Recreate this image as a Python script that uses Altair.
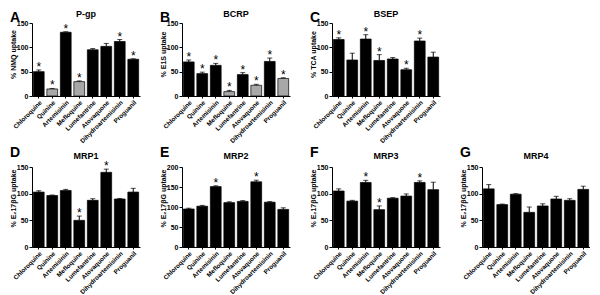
import altair as alt
import pandas as pd

drugs = ["Chloroquine", "Quinine", "Artemisinin", "Mefloquine", "Lumefantrine",
         "Atovaquone", "Dihydroartemisinin", "Proguanil"]

letters = ["A", "B", "C", "D", "E", "F", "G"]
titles = ["P-gp", "BCRP", "BSEP", "MRP1", "MRP2", "MRP3", "MRP4"]
ytitles = ["% NMQ uptake", "% E1S uptake", "% TCA uptake",
           "% E₂17βG uptake", "% E₂17βG uptake", "% E₂17βG uptake", "% E₂17βG uptake"]
ymax = [150, 150, 150, 150, 200, 150, 150]

pgp_val = [50, 14.5, 131, 29.5, 95, 102, 112, 75.5]
pgp_err = [3.5, 1, 1, 1.5, 2.5, 6, 4, 1]
pgp_star = [1, 1, 1, 1, 0, 0, 1, 1]
pgp_grey = [0, 1, 0, 1, 0, 0, 0, 0]

bcrp_val = [70, 46, 63, 9, 44, 22, 71, 36]
bcrp_err = [4, 3, 4, 2.5, 4, 2, 7, 1.5]
bcrp_star = [1, 1, 1, 1, 1, 1, 1, 1]
bcrp_grey = [0, 0, 0, 1, 0, 1, 0, 1]

bsep_val = [116, 74, 117, 73, 76, 54, 113, 80]
bsep_err = [3.5, 14, 9, 12, 3, 3, 6, 10]
bsep_star = [1, 0, 1, 1, 0, 1, 1, 0]
bsep_grey = [0, 0, 0, 0, 0, 0, 0, 0]

mrp1_val = [103, 96.5, 106, 50, 87.5, 140, 90, 103]
mrp1_err = [2.5, 1, 2, 8, 3, 6, 1, 7]
mrp1_star = [0, 0, 0, 1, 0, 1, 0, 0]

mrp2_val = [95, 102, 151, 111, 114, 163, 112, 94]
mrp2_err = [2, 2, 2, 2, 2, 4, 1.5, 4]
mrp2_star = [0, 0, 1, 0, 0, 1, 0, 0]

mrp3_val = [105, 86, 121, 70, 91.5, 95.5, 121, 107.5]
mrp3_err = [4, 1.5, 4, 7, 1, 4, 3, 14]
mrp3_star = [0, 0, 1, 1, 0, 0, 1, 0]

mrp4_val = [109, 79.5, 99, 65, 77, 90, 87.5, 108]
mrp4_err = [8, 1, 1, 10, 4, 5, 3, 6]
mrp4_star = [0, 0, 0, 0, 0, 0, 0, 0]

no_grey = [0] * 8

series = [
    (pgp_val, pgp_err, pgp_star, pgp_grey),
    (bcrp_val, bcrp_err, bcrp_star, bcrp_grey),
    (bsep_val, bsep_err, bsep_star, bsep_grey),
    (mrp1_val, mrp1_err, mrp1_star, no_grey),
    (mrp2_val, mrp2_err, mrp2_star, no_grey),
    (mrp3_val, mrp3_err, mrp3_star, no_grey),
    (mrp4_val, mrp4_err, mrp4_star, no_grey),
]

FONT = "Liberation Sans"
W = 108


def panel(i, h, title_y, letter_y):
    vals, errs, stars, greys = series[i]
    df = pd.DataFrame({
        "drug": drugs,
        "value": vals,
        "hi": [v + e for v, e in zip(vals, errs)],
        "star": ["*" if s else "" for s in stars],
        "fill": ["grey" if g else "black" for g in greys],
    })
    ticks = list(range(0, ymax[i] + 1, 50))
    xscale = alt.Scale(paddingInner=0.2, paddingOuter=0.1)
    xaxis = alt.Axis(title=None, labelAngle=-45, labelFontSize=6.3,
                     labelFontWeight="bold", labelColor="black",
                     tickSize=2, tickColor="black", domainColor="black",
                     labelPadding=1, labelOverlap=False)
    xenc = alt.X("drug:N", sort=drugs, scale=xscale, axis=xaxis)
    yscale = alt.Scale(domain=[0, ymax[i]], nice=False)
    yaxis = alt.Axis(values=ticks, title=ytitles[i], grid=False,
                     titleX=-19, titleY=31, titleAngle=-90,
                     titleAlign="center", titleBaseline="middle",
                     titleFontSize=7, titleFontWeight="bold",
                     titleColor="black",
                     labelFontSize=7, labelFontWeight="bold",
                     labelColor="black", labelPadding=1,
                     labelOverlap=False, labelFlush=False,
                     tickSize=3, tickColor="black", domainColor="black")
    base = alt.Chart(df)
    bars = base.mark_bar(stroke="black", strokeWidth=0.7).encode(
        x=xenc, y=alt.Y("value:Q", scale=yscale, axis=yaxis),
        color=alt.Color("fill:N", scale=alt.Scale(domain=["black", "grey"],
                                                  range=["#000000", "#a8a8a8"]),
                        legend=None))
    err = base.mark_rule(color="black", strokeWidth=1).encode(
        x=xenc, y=alt.Y("value:Q", scale=yscale, axis=yaxis), y2="hi:Q")
    cap = base.mark_tick(color="black", thickness=1, size=5).encode(
        x=xenc, y=alt.Y("hi:Q", scale=yscale, axis=yaxis))
    star = base.mark_text(fontSize=12, font=FONT, baseline="alphabetic", dy=1,
                          color="black").encode(
        x=xenc, y=alt.Y("hi:Q", scale=yscale, axis=yaxis), text="star:N")
    lab = pd.DataFrame({"letter": [letters[i]], "title": [titles[i]]})
    let = alt.Chart(lab).mark_text(
        align="left", baseline="alphabetic", fontSize=14, fontWeight="bold",
        font=FONT, color="black").encode(
        x=alt.value(-22), y=alt.value(letter_y), text="letter:N")
    ttl = alt.Chart(lab).mark_text(
        align="center", baseline="alphabetic", fontSize=9, fontWeight="bold",
        font=FONT, color="black").encode(
        x=alt.value(W / 2), y=alt.value(title_y), text="title:N")
    return alt.layer(bars, err, cap, star, let, ttl).properties(width=W, height=h)


top_h = 73
bot_h = 80
panels = [panel(i, top_h, -6, -1) for i in range(3)]
blank = alt.Chart(pd.DataFrame({"a": [0]})).mark_text(text="").encode(
    x=alt.value(0), y=alt.value(0)).properties(width=W, height=top_h)
panels.append(blank)
panels += [panel(i, bot_h, -8, -10) for i in range(3, 7)]

chart = alt.concat(*panels, columns=4, spacing={"row": 71, "column": 42},
                   bounds="flush", align="each").properties(
    padding={"top": 2, "left": 0, "right": 0, "bottom": 0}).configure(
    font=FONT, view=alt.ViewConfig(stroke=None))

chart.save("out.html", embed_options={"renderer": "svg", "actions": False})
